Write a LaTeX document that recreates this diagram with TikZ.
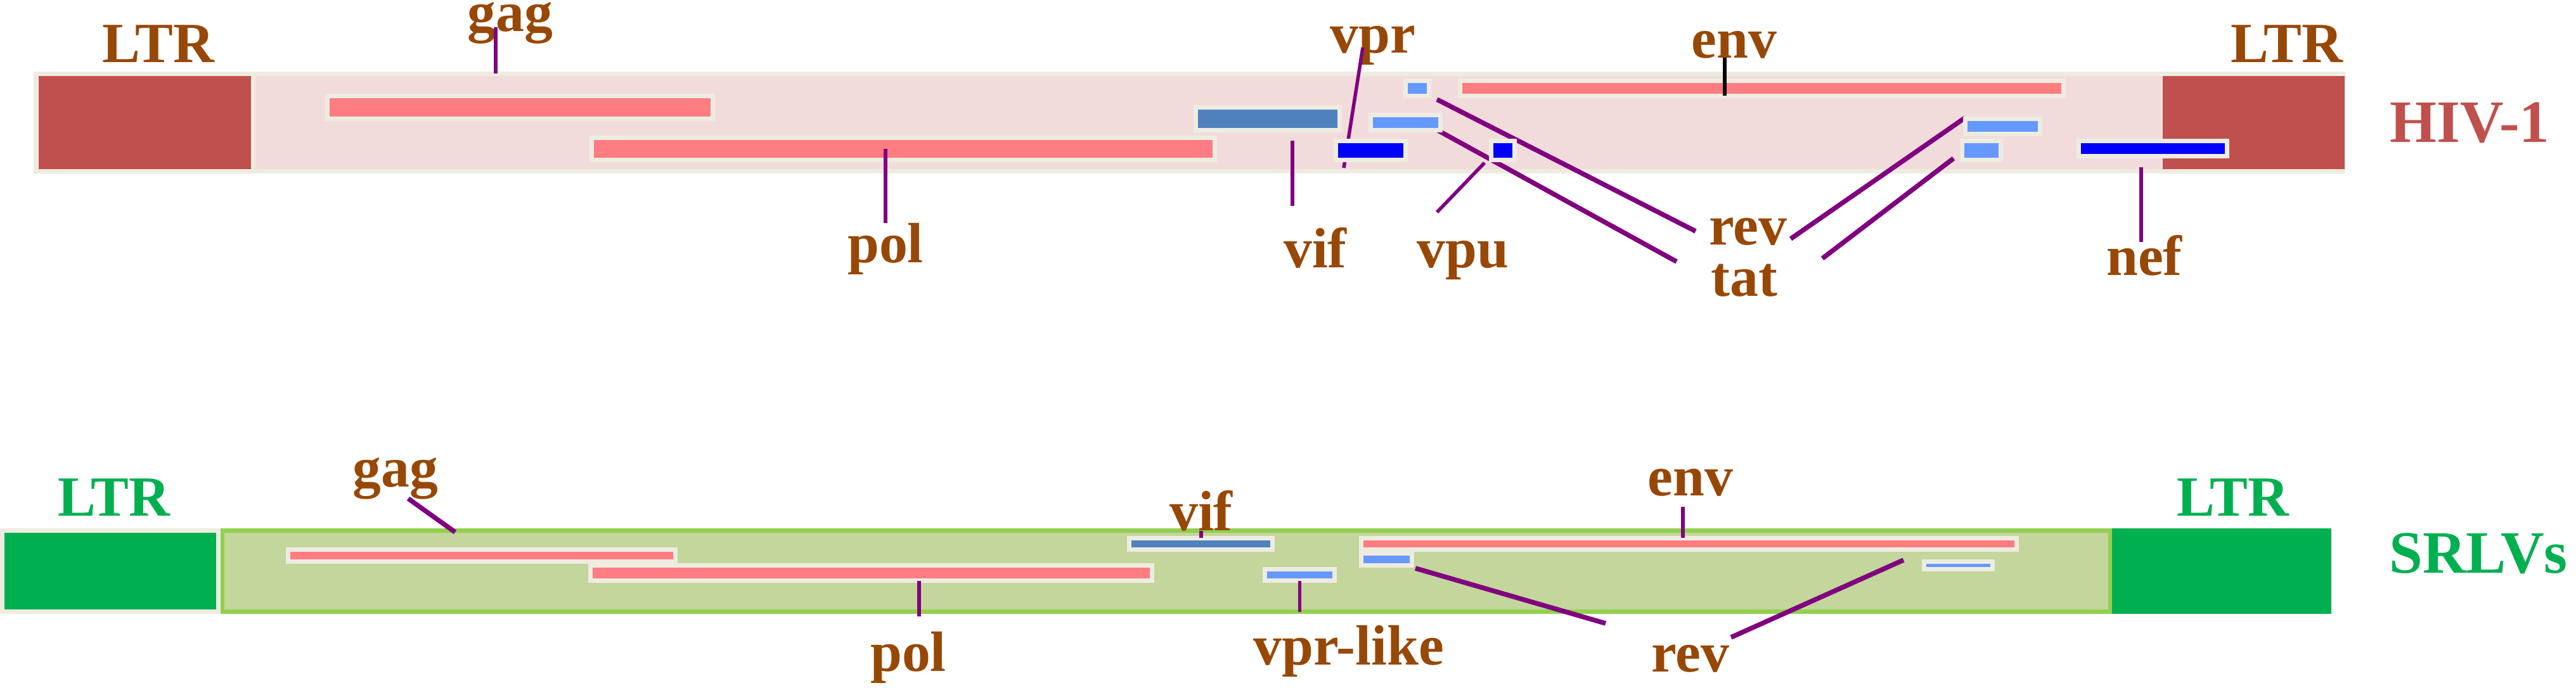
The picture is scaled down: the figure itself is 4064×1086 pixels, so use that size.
\documentclass[tikz,border=0pt]{standalone}
\usepackage{fontspec}
\setmainfont{Liberation Serif}
\usepackage{xcolor}
\usepackage{tikz}
\usetikzlibrary{positioning,calc}

\definecolor{labelbrown}{HTML}{984806}
\definecolor{ltrred}{HTML}{C0504D}
\definecolor{hivband}{HTML}{F2DCDB}
\definecolor{cream}{HTML}{EEECE1}
\definecolor{genepink}{HTML}{FF7C80}
\definecolor{vifblue}{HTML}{4F81BD}
\definecolor{exonblue}{HTML}{6699FF}
\definecolor{deepblue}{HTML}{0000FF}
\definecolor{ltrgreen}{HTML}{00B050}
\definecolor{srlvband}{HTML}{C3D69B}
\definecolor{srlvedge}{HTML}{92D050}
\definecolor{leader}{HTML}{800080}

\begin{document}
\begin{tikzpicture}[x=0.01cm, y=-0.01cm,
    gene/.style={rectangle, draw=cream, line width=0.07cm, inner sep=0pt, outer sep=0pt},
    lbl/.style={font=\fontsize{25.5}{30}\selectfont\bfseries, text=labelbrown, inner sep=0pt, anchor=base},
    tag/.style={font=\fontsize{27}{32}\selectfont\bfseries, inner sep=0pt, anchor=base},
    lnk/.style={draw=leader, line width=0.055cm},
    lnkb/.style={draw=leader, line width=0.075cm}
]
    \useasboundingbox (0,0) rectangle (4064,1086);

    % HIV-1 genome
    \node[gene, fill=hivband, minimum width=36.38cm, minimum height=1.54cm] (hiv) at (1876.5,193.5) {};
    \node[gene, fill=ltrred, minimum width=3.42cm, minimum height=1.54cm] (hivL) at (228.5,193.5) {};
    \node[gene, draw=none, fill=ltrred, minimum width=2.87cm, minimum height=1.47cm] (hivR) at (3555.5,193.5) {};

    % SRLV genome
    \node[gene, draw=srlvedge, fill=srlvband, minimum width=29.77cm, minimum height=1.28cm] (srlv) at (1840,901.5) {};
    \node[gene, fill=ltrgreen, minimum width=3.41cm, minimum height=1.28cm] (srlvL) at (174,901.5) {};
    \node[gene, draw=none, fill=ltrgreen, minimum width=3.46cm, minimum height=1.35cm] (srlvR) at (3505,901.5) {};

    % Labels HIV-1
    \node[lbl] (ltrHLl) at (250,99) {LTR};
    \node[lbl] (gagHl) at (805,50) {gag};
    \node[lbl] (polHl) at (1397,415) {pol};
    \node[lbl] (vifHl) at (2075,423) {vif};
    \node[lbl] (vprHl) at (2166,84) {vpr};
    \node[lbl] (vpuHl) at (2308,423) {vpu};
    \node[lbl] (envHl) at (2736,92) {env};
    \node[lbl] (revHl) at (2758,387) {rev};
    \node[lbl] (tatHl) at (2752,468) {tat};
    \node[lbl] (nefHl) at (3383,435) {nef};
    \node[lbl] (ltrHRl) at (3608,99) {LTR};
    \node[tag, text=ltrred, right=0.71cm of hivR] (hivl) {HIV-1};

    % Labels SRLVs
    \node[lbl, text=ltrgreen] (ltrSLl) at (180,815) {LTR};
    \node[lbl] (gagSl) at (624,769) {gag};
    \node[lbl] (polSl) at (1433,1059) {pol};
    \node[lbl] (vifSl) at (1895,838) {vif};
    \node[lbl] (vprSl) at (2128,1049) {vpr-like};
    \node[lbl] (envSl) at (2667,783) {env};
    \node[lbl] (revSl) at (2667,1060) {rev};
    \node[lbl, text=ltrgreen] (ltrSRl) at (3523,815) {LTR};
    \node[tag, text=ltrgreen] (srlvl) at (3910,904) {SRLVs};

    % Leader ends
    \coordinate (gagHa) at (782,43);    \coordinate (vifHa) at (2039,325);  \coordinate (vifHb) at (2039,222);
    \coordinate (vprHa) at (2150,75);   \coordinate (vprHb) at (2120,265);
    \coordinate (revHa) at (2267,157);  \coordinate (revHb) at (2675,365);
    \coordinate (tatHa) at (2267,205);  \coordinate (tatHb) at (2645,413);
    \coordinate (vpuHa) at (2342,257);  \coordinate (vpuHb) at (2267,335);
    \coordinate (revHc) at (3100,186);  \coordinate (revHd) at (2825,377);
    \coordinate (tatHc) at (3082,250);  \coordinate (tatHd) at (2875,408);
    \coordinate (nefHa) at (3378,264);  \coordinate (nefHb) at (3378,382);
    \coordinate (envHa) at (2721,91);
    \coordinate (gagSa) at (644,787);   \coordinate (gagSb) at (718,840);
    \coordinate (polSa) at (1450,973);
    \coordinate (envSa) at (2655,800);
    \coordinate (revSa) at (2233,897);  \coordinate (revSb) at (2533,984);
    \coordinate (revSc) at (3003,884);  \coordinate (revSd) at (2731,1006);

    % Leaders under the genes
    \draw[lnk] (gagHa) -- (gagHa |- hiv.north);
    \draw[lnk] (vifHb) -- (vifHa);
    \draw[lnk] (vprHa) -- (vprHb);
    \draw[lnkb] (revHa) -- (revHb);
    \draw[lnkb] (tatHa) -- (tatHb);
    \draw[lnk] (vpuHa) -- (vpuHb);
    \draw[lnkb] (revHc) -- (revHd);
    \draw[lnkb] (tatHc) -- (tatHd);
    \draw[lnk] (nefHa) -- (nefHb);
    \draw[lnkb] (gagSa) -- (gagSb);
    \draw[lnkb] (revSa) -- (revSb);
    \draw[lnkb] (revSc) -- (revSd);

    % Genes HIV-1
    \node[gene, fill=genepink, minimum width=6.08cm, minimum height=0.36cm] (gagH) at (820.5,169.5) {};
    \node[gene, fill=genepink, minimum width=9.83cm, minimum height=0.35cm] (polH) at (1425,235) {};
    \node[gene, fill=vifblue, minimum width=2.27cm, minimum height=0.36cm] (vifH) at (2000,187.5) {};
    \node[gene, fill=deepblue, minimum width=1.10cm, minimum height=0.30cm] (vprH) at (2162.5,237.5) {};
    \node[gene, fill=exonblue, minimum width=0.37cm, minimum height=0.24cm] (revH1) at (2236,139.5) {};
    \node[gene, fill=exonblue, minimum width=1.10cm, minimum height=0.24cm] (tatH1) at (2217.5,193.5) {};
    \node[gene, fill=deepblue, minimum width=0.37cm, minimum height=0.30cm] (vpuH) at (2371,237.5) {};
    \node[gene, fill=genepink, minimum width=9.52cm, minimum height=0.24cm] (envH) at (2779.5,139.5) {};
    \node[gene, fill=exonblue, minimum width=1.18cm, minimum height=0.24cm] (revH2) at (3159.5,199.5) {};
    \node[gene, fill=exonblue, minimum width=0.61cm, minimum height=0.30cm] (tatH2) at (3126,237.5) {};
    \node[gene, fill=deepblue, minimum width=2.34cm, minimum height=0.24cm] (nefH) at (3396.5,234.5) {};

    % Genes SRLVs
    \node[gene, fill=genepink, minimum width=6.11cm, minimum height=0.19cm] (gagS) at (760,877) {};
    \node[gene, fill=genepink, minimum width=8.86cm, minimum height=0.24cm] (polS) at (1374.5,904.5) {};
    \node[gene, fill=vifblue, minimum width=2.26cm, minimum height=0.18cm] (vifS) at (1894.5,858.5) {};
    \node[gene, fill=exonblue, minimum width=1.10cm, minimum height=0.18cm] (vprS) at (2050.5,907.5) {};
    \node[gene, fill=genepink, minimum width=10.34cm, minimum height=0.18cm] (envS) at (2664.5,858.5) {};
    \node[gene, fill=exonblue, minimum width=0.80cm, minimum height=0.19cm] (revS1) at (2187.5,883) {};
    \node[gene, fill=exonblue, minimum width=1.08cm, minimum height=0.12cm] (revS2) at (3089.5,892.5) {};

    % Leaders over the genes
    \draw[lnk] (polHl.north |- polH.center) -- (polHl.north);
    \draw[lnk, draw=black] (envHa) -- (envHa |- envH.south);
    \draw[lnk] (polSa |- polS.south) -- (polSa);
    \draw[lnk] (vifSl.base) -- (vifSl.base |- vifS.north);
    \draw[lnk] (vprS.south) -- (vprS.south |- srlv.south);
    \draw[lnk] (envSa) -- (envSa |- envS.north);
\end{tikzpicture}
\end{document}
